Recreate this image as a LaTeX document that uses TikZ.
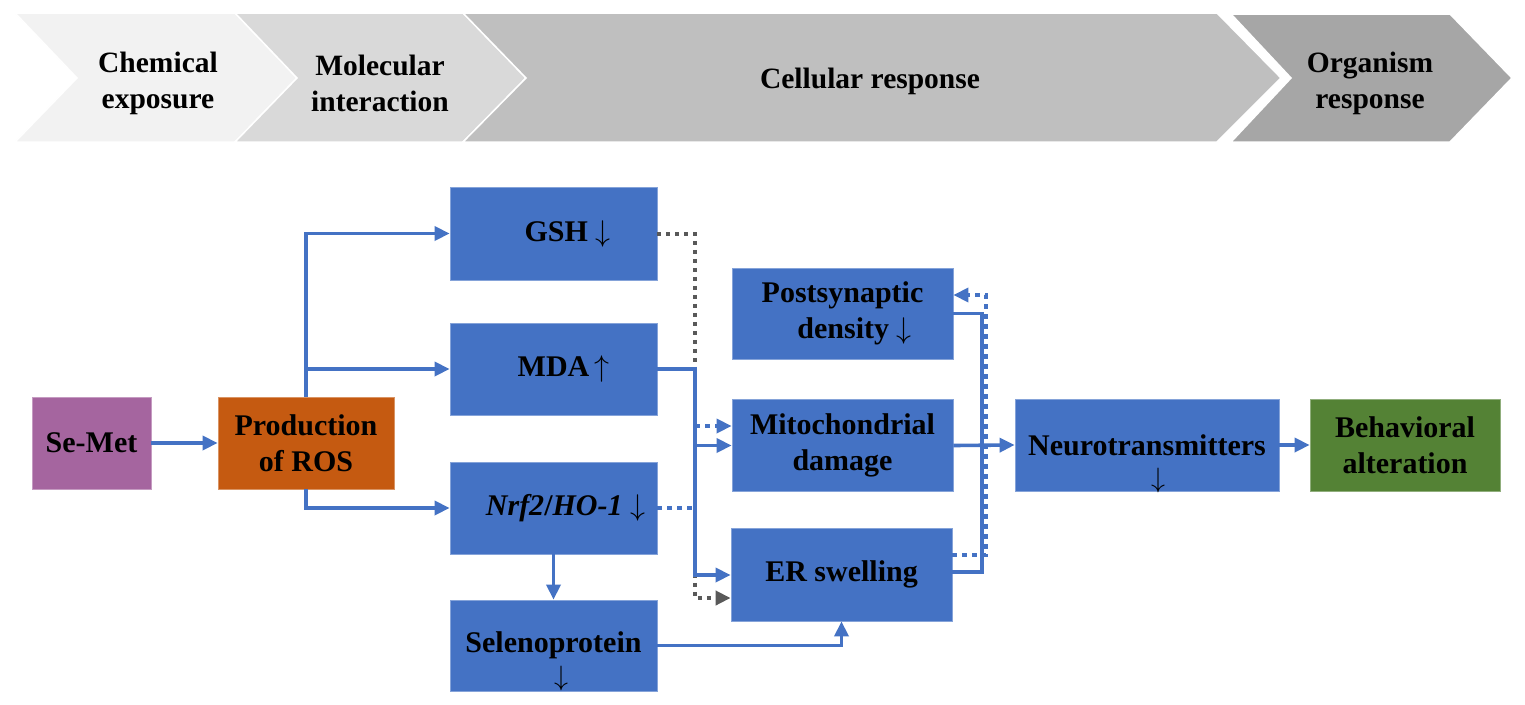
\RequirePackage{fix-cm}
\documentclass[tikz,border=0pt]{standalone}
\usepackage{fontspec}
\setmainfont{Liberation Serif}
\usetikzlibrary{arrows.meta,calc}
\definecolor{cblue}{HTML}{4472C4}
\definecolor{corange}{HTML}{C55A11}
\definecolor{cpurple}{HTML}{A5659F}
\definecolor{cgreen}{HTML}{548235}
\definecolor{cgray}{HTML}{595959}
\definecolor{chA}{HTML}{F2F2F2}
\definecolor{chB}{HTML}{D9D9D9}
\definecolor{chC}{HTML}{BFBFBF}
\definecolor{chD}{HTML}{A6A6A6}
\tikzset{
  box/.style={rectangle, inner sep=0pt, align=center, text=black,
    font=\fontsize{30}{36}\selectfont\bfseries, draw=#1!65!white, line width=0.8pt, fill=#1},
  chevtext/.style={align=center, text=black, font=\fontsize{29.5}{36}\selectfont\bfseries},
  conn/.style={draw=cblue, line width=3.6pt, -{Triangle[length=15pt,width=14pt]}},
  plain/.style={draw=cblue, line width=3.6pt},
  bluedot/.style={draw=cblue, line width=3.6pt, dash pattern=on 5pt off 5pt, -{Triangle[length=15pt,width=14pt]}},
  graydot/.style={draw=cgray, line width=4pt, dash pattern=on 4pt off 5pt, -{Triangle[length=15pt,width=14pt]}},
  chev/.style={draw=white, line width=1.5pt},
  arrowmark/.style={inner sep=0pt, font=\fontsize{28}{34}\selectfont}
}
\begin{document}
\begin{tikzpicture}[x=1pt,y=-1pt]
\useasboundingbox (0,0) rectangle (1525,704);
\fill[white] (0,0) rectangle (1525,704);

% header chevrons
\filldraw[chev, fill=chA] (15,13) -- (235,13) -- (297,78) -- (235,142) -- (15,142) -- (77,78) -- cycle;
\filldraw[chev, fill=chB] (235,13) -- (463,13) -- (526,78) -- (463,142) -- (235,142) -- (297,78) -- cycle;
\filldraw[chev, fill=chC] (463,13) -- (1217,13) -- (1281,78) -- (1217,142) -- (463,142) -- (526,78) -- cycle;
\filldraw[chev, fill=chD] (1231,14) -- (1450,14) -- (1512,78) -- (1450,142) -- (1231,142) -- (1291,78) -- cycle;

\node[chevtext] (h1) at (158,83) {Chemical\\exposure};
\node[chevtext] (h2) at (380,83) {Molecular\\interaction};
\node[chevtext] (h3) at (870,81) {Cellular response};
\node[chevtext] (h4) at (1370,83) {Organism\\response};

% boxes
\node[box=cpurple, minimum width=119pt, minimum height=92pt] (semet) at (91.5,443) {Se-Met};
\node[box=corange, minimum width=176pt, minimum height=92pt] (ros) at (306,443) {Production\\of ROS};
\node[box=cblue, minimum width=207pt, minimum height=93pt] (gsh) at (553.5,233.5) {\hspace*{28pt}GSH $\downarrow$};
\node[box=cblue, minimum width=207pt, minimum height=92pt] (mda) at (553.5,369) {\hspace*{20pt}MDA\,$\uparrow$};
\node[box=cblue, minimum width=207pt, minimum height=92pt] (nrf) at (553.5,508) {\hspace*{24pt}\textit{Nrf2}/\textit{HO-1} $\downarrow$};
\node[box=cblue, minimum width=207pt, minimum height=91pt] (seleno) at (553.5,645.5) {Selenoprotein};
\node[arrowmark] (selarr) at (561,678) {$\downarrow$};
\node[box=cblue, minimum width=221pt, minimum height=91pt] (post) at (842.5,313.5) {Postsynaptic\\\hspace*{24pt}density $\downarrow$};
\node[box=cblue, minimum width=221pt, minimum height=92pt] (mito) at (842.5,445.5) {Mitochondrial\\damage};
\node[box=cblue, minimum width=221pt, minimum height=93pt] (er) at (841.5,574.5) {ER swelling};
\node[box=cblue, minimum width=264pt, minimum height=92pt] (neuro) at (1147,445) {Neurotransmitters};
\node[arrowmark] (neuarr) at (1158,480) {$\downarrow$};
\node[box=cgreen, minimum width=190pt, minimum height=92pt] (behav) at (1405,445) {Behavioral\\alteration};

% helper coordinates
\coordinate (gbus) at (695,598);
\coordinate (nbus) at (695,426);
\coordinate (mbus) at (695,575);
\coordinate (mjoin) at (695,445.5);
\coordinate (rbus) at (982,572);
\coordinate (dlow) at (986,555);
\coordinate (dtop) at (986,295);

% dotted connectors (below)
\draw[graydot] (gsh.east) -| (gbus) -- (er.west |- gbus);
\draw[bluedot] (nrf.east) -| (nbus) -- (mito.west |- nbus);
\draw[bluedot] (er.east |- dlow) -- (dlow) -- (dtop) -- (post.east |- dtop);

% solid connectors
\draw[conn] (semet) -- (ros);
\draw[conn] (ros.north) |- (gsh.west);
\draw[conn] (ros.north) |- (mda.west);
\draw[conn] (ros.south) |- (nrf.west);
\draw[conn] (mda.east) -| (mbus) -- (er.west |- mbus);
\draw[conn] (mjoin) -- (mito.west);
\draw[conn] (nrf.south) -- (seleno.north);
\draw[conn] (seleno.east) -| (er.south);
\draw[plain] (post.east) -| (rbus) -- (er.east |- rbus);
\draw[conn] (mito.east) -- (neuro.west);
\draw[conn] (neuro.east) -- (behav.west);
\end{tikzpicture}
\end{document}
